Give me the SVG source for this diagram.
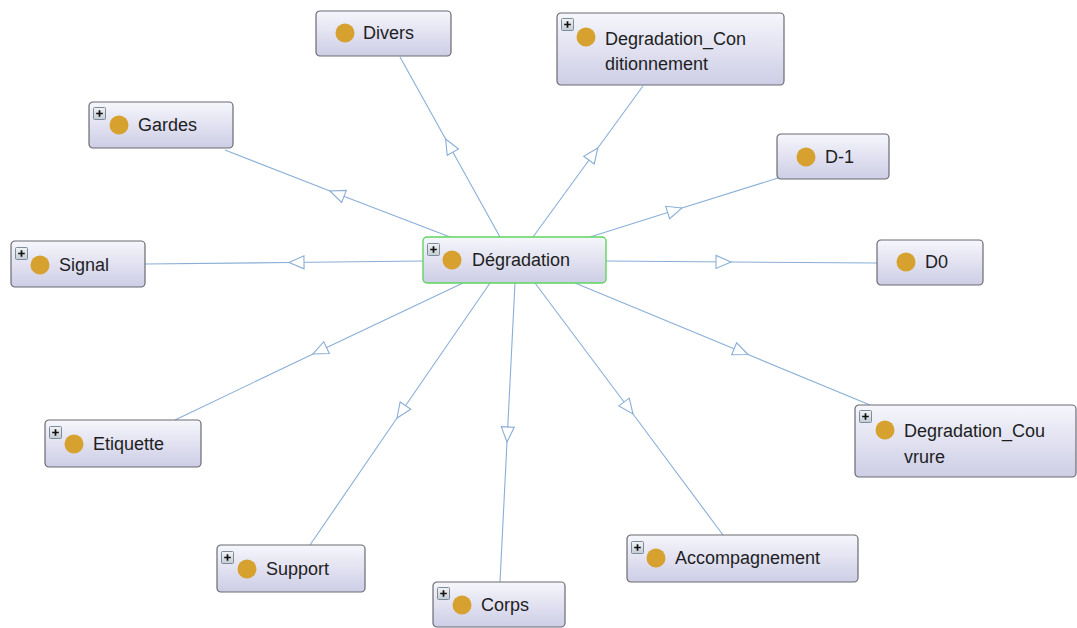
<svg xmlns="http://www.w3.org/2000/svg" xmlns:xlink="http://www.w3.org/1999/xlink" width="1077" height="628" viewBox="0 0 1077 628">
<style>
.box{fill:url(#boxg);stroke:#6a6a72;stroke-width:1.2}
.sel{stroke:#5ed65e;stroke-width:1.4}
.dot{fill:#d6a12e}
.lbl{font-family:"Liberation Sans",Arial,sans-serif;font-size:18px;fill:#1e1e1e}
.edge{fill:none;stroke:#8aaed6;stroke-width:1.1;marker-mid:url(#tri)}
</style>
<defs>
<linearGradient id="boxg" x1="0" y1="0" x2="0" y2="1">
<stop offset="0" stop-color="#f6f6fc"/>
<stop offset="1" stop-color="#cdcde6"/>
</linearGradient>
<linearGradient id="pg" x1="0" y1="0" x2="0" y2="1">
<stop offset="0" stop-color="#f2f4f6"/>
<stop offset="1" stop-color="#c3cbd3"/>
</linearGradient>
<marker id="tri" markerUnits="userSpaceOnUse" markerWidth="20" markerHeight="16" refX="16" refY="7" orient="auto" viewBox="0 0 20 14">
<path d="M16,7 L1,0.5 L1,13.5 Z" fill="#ffffff" stroke="#8aaed6" stroke-width="1.1"/>
</marker>
<g id="plus">
<rect x="0.5" y="0.5" width="12" height="12" rx="1" fill="url(#pg)" stroke="#7d8c9a" stroke-width="1"/>
<path d="M3.2,6.5 H9.8 M6.5,3.2 V9.8" stroke="#111" stroke-width="1.7"/>
</g>
</defs>
<rect width="1077" height="628" fill="#ffffff"/>
<g id="connectors">
<polyline class="edge" points="500,237 445.6,139 400,57"/>
<polyline class="edge" points="533,237 597.8,148 643,86"/>
<polyline class="edge" points="450,237 330,191 225,150"/>
<polyline class="edge" points="590,237 682,208 778,178"/>
<polyline class="edge" points="423,261 289,262.5 145,264"/>
<polyline class="edge" points="606,261 731,262 877,263"/>
<polyline class="edge" points="463,283 313,354 175,420"/>
<polyline class="edge" points="490,283 397,418 310,545"/>
<polyline class="edge" points="515,283 507,442 500,582"/>
<polyline class="edge" points="535,283 633,414 723,535"/>
<polyline class="edge" points="575,283 748,354.5 870,405"/>
</g>
<g id="node-divers" transform="translate(316,11)">
<rect class="box" x="0" y="0" width="135" height="45" rx="4"/>
<circle class="dot" cx="29" cy="22" r="9.5"/>
<text class="lbl" x="47" y="28">Divers</text>
</g>
<g id="node-conditionnement" transform="translate(557,13)">
<rect class="box" x="0" y="0" width="227" height="72" rx="4"/>
<use xlink:href="#plus" x="4" y="5"/>
<circle class="dot" cx="29" cy="24" r="9.5"/>
<text class="lbl" x="48" y="32">Degradation_Con</text>
<text class="lbl" x="48" y="57">ditionnement</text>
</g>
<g id="node-gardes" transform="translate(89,102)">
<rect class="box" x="0" y="0" width="144" height="46" rx="4"/>
<use xlink:href="#plus" x="4" y="5"/>
<circle class="dot" cx="30" cy="23" r="9.5"/>
<text class="lbl" x="49" y="29">Gardes</text>
</g>
<g id="node-d1" transform="translate(777,134)">
<rect class="box" x="0" y="0" width="112" height="45" rx="4"/>
<circle class="dot" cx="29" cy="23" r="9.5"/>
<text class="lbl" x="48" y="29">D-1</text>
</g>
<g id="node-signal" transform="translate(11,241)">
<rect class="box" x="0" y="0" width="134" height="46" rx="4"/>
<use xlink:href="#plus" x="4" y="6"/>
<circle class="dot" cx="29" cy="24" r="9.5"/>
<text class="lbl" x="48" y="30">Signal</text>
</g>
<g id="node-degradation" transform="translate(423,237)">
<rect class="box sel" x="0" y="0" width="183" height="46" rx="4"/>
<use xlink:href="#plus" x="4" y="6"/>
<circle class="dot" cx="29" cy="23" r="9.5"/>
<text class="lbl" x="49" y="29">Dégradation</text>
</g>
<g id="node-d0" transform="translate(877,240)">
<rect class="box" x="0" y="0" width="106" height="45" rx="4"/>
<circle class="dot" cx="29" cy="22" r="9.5"/>
<text class="lbl" x="48" y="28">D0</text>
</g>
<g id="node-etiquette" transform="translate(45,420)">
<rect class="box" x="0" y="0" width="156" height="47" rx="4"/>
<use xlink:href="#plus" x="4" y="6"/>
<circle class="dot" cx="29" cy="24" r="9.5"/>
<text class="lbl" x="48" y="30">Etiquette</text>
</g>
<g id="node-couvrure" transform="translate(855,405)">
<rect class="box" x="0" y="0" width="221" height="72" rx="4"/>
<use xlink:href="#plus" x="4" y="5"/>
<circle class="dot" cx="30" cy="25" r="9.5"/>
<text class="lbl" x="49" y="32">Degradation_Cou</text>
<text class="lbl" x="49" y="58">vrure</text>
</g>
<g id="node-support" transform="translate(217,545)">
<rect class="box" x="0" y="0" width="148" height="47" rx="4"/>
<use xlink:href="#plus" x="4" y="6"/>
<circle class="dot" cx="30" cy="24" r="9.5"/>
<text class="lbl" x="49" y="30">Support</text>
</g>
<g id="node-corps" transform="translate(433,582)">
<rect class="box" x="0" y="0" width="132" height="45" rx="4"/>
<use xlink:href="#plus" x="4" y="5"/>
<circle class="dot" cx="29" cy="23" r="9.5"/>
<text class="lbl" x="48" y="29">Corps</text>
</g>
<g id="node-accompagnement" transform="translate(627,535)">
<rect class="box" x="0" y="0" width="231" height="47" rx="4"/>
<use xlink:href="#plus" x="4" y="6"/>
<circle class="dot" cx="29" cy="23" r="9.5"/>
<text class="lbl" x="48" y="29">Accompagnement</text>
</g>
</svg>
